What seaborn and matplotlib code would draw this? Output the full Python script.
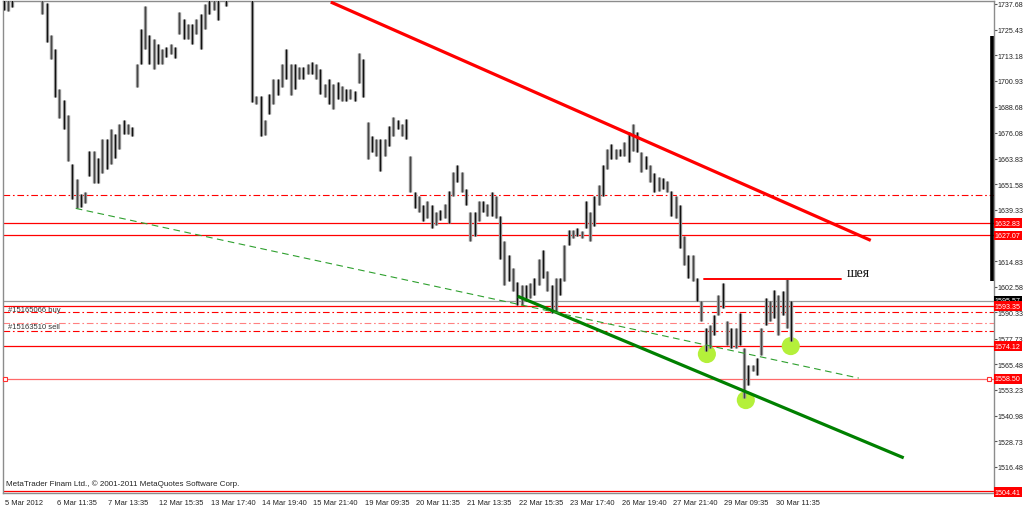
import matplotlib
matplotlib.use("Agg")
import matplotlib.pyplot as plt
import matplotlib.transforms as mtransforms
import seaborn as sns
import numpy as np
import pandas as pd

# ---------------- data ----------------
highs = [1741, 1742, 1745, 1752, 1755, 1758, 1756, 1754, 1750, 1745,
         1738, 1723, 1716, 1697, 1692, 1684.5, 1661, 1654, 1647, 1648,
         1667.5, 1667.5, 1664, 1673, 1673, 1678, 1675.5, 1680.5, 1682, 1680.5,
         1679, 1709, 1725.8, 1736.7, 1723, 1721, 1718.6, 1716, 1717, 1718.6,
         1717, 1734, 1730.5, 1728, 1728, 1730.5, 1733, 1737.7, 1741, 1745,
         1741, 1748, 1744, 1750, 1755, 1760, 1758, 1755, 1745, 1693.8,
         1693.8, 1682, 1694.8, 1701.9, 1702, 1709, 1716, 1709, 1709, 1707.7,
         1707.7, 1709, 1710, 1709, 1706.7, 1699.5, 1701.9, 1699.5, 1700.5, 1698.6,
         1697, 1697, 1696, 1714.3, 1711.5, 1681.4, 1674.7, 1673.3, 1673.3, 1673.3,
         1679.5, 1683.8, 1682, 1680.5, 1682.9, 1665, 1648, 1646, 1641.4, 1643.3,
         1641.4, 1638.5, 1639, 1642.3, 1648.5, 1657.6, 1660.5, 1657.6, 1649.5, 1638.5,
         1638.5, 1643.3, 1643.3, 1642.3, 1648, 1646, 1636.6, 1624.2, 1617.6, 1611.4,
         1605, 1603.3, 1603.3, 1604.2, 1606.6, 1616, 1620, 1610, 1603.3, 1606.6,
         1606.6, 1622.4, 1629.5, 1629.5, 1630.4, 1629, 1643.3, 1638.5, 1646, 1651,
         1660.5, 1668.6, 1671, 1668.6, 1668.6, 1671.9, 1676.6, 1680.5, 1676.6, 1667,
         1665.2, 1660.5, 1656.7, 1655.2, 1654.3, 1653.3, 1648.5, 1646, 1641.4, 1627,
         1617.5, 1617.5, 1606.6, 1595.6, 1582.8, 1584.2, 1589, 1598.5, 1604.2, 1586,
         1582.8, 1582.8, 1590, 1573.2, 1565.2, 1565.2, 1568.5, 1582.8, 1597.1, 1595.6,
         1600.8, 1598.5, 1600.3, 1606.1, 1595.6]
lows = [1735, 1734.5, 1736, 1742, 1745, 1748, 1747, 1744, 1740, 1733,
        1719.5, 1711.5, 1693, 1683, 1678, 1662.5, 1644.7, 1640, 1640.5, 1642.5,
        1655.7, 1652, 1652, 1657, 1659, 1661, 1664, 1668.6, 1675.5, 1675.5,
        1674.7, 1698, 1709, 1716, 1709, 1706.7, 1709, 1709, 1712.4, 1713.8,
        1712, 1723.4, 1721, 1721, 1718.6, 1723.4, 1716, 1725.8, 1733, 1735,
        1730, 1740, 1736.5, 1741, 1745, 1748, 1746, 1744, 1691, 1690,
        1674.7, 1675, 1685, 1690, 1694, 1698, 1702, 1694, 1697, 1702,
        1702, 1704.3, 1704.3, 1701.9, 1694.8, 1693, 1690, 1687.6, 1692.4, 1691.4,
        1691.4, 1692.4, 1691.4, 1700, 1693, 1663.8, 1667, 1665.2, 1658, 1665,
        1670, 1674.7, 1678, 1674.7, 1673.3, 1648, 1640, 1638.5, 1633.8, 1635.2,
        1630.4, 1632, 1634.5, 1635.2, 1633, 1646, 1652.8, 1648, 1641.4, 1624.2,
        1627, 1633.8, 1638.5, 1636.6, 1636.6, 1635.2, 1616, 1603.3, 1605.2, 1600.3,
        1593.7, 1593.7, 1595.6, 1597.1, 1598.5, 1603.3, 1606.6, 1600.3, 1590, 1590.8,
        1598.5, 1605.2, 1622.4, 1625.7, 1626.6, 1625.7, 1630.4, 1624.2, 1631.8, 1641.4,
        1646, 1659, 1663.8, 1663.8, 1664.8, 1665.2, 1662.4, 1667.6, 1667, 1657.6,
        1659, 1652.8, 1648, 1648.5, 1649.5, 1648, 1636.6, 1635.2, 1620.9, 1612.8,
        1606.6, 1605.2, 1595.6, 1586, 1571.8, 1573.2, 1579.5, 1589, 1592.3, 1574.7,
        1573.2, 1573.2, 1574.7, 1549.4, 1555.6, 1562.5, 1560.3, 1570, 1584.2, 1586,
        1587.5, 1579.5, 1589, 1582.8, 1576.5]

date_labels = ["5 Mar 2012", "6 Mar 11:35", "7 Mar 13:35", "12 Mar 15:35", "13 Mar 17:40",
               "14 Mar 19:40", "15 Mar 21:40", "19 Mar 09:35", "20 Mar 11:35", "21 Mar 13:35",
               "22 Mar 15:35", "23 Mar 17:40", "26 Mar 19:40", "27 Mar 21:40", "29 Mar 09:35",
               "30 Mar 11:35"]
bars_per_label = 12

price_ticks = [1737.68, 1725.43, 1713.18, 1700.93, 1688.68, 1676.08, 1663.83, 1651.58,
               1639.33, 1614.83, 1602.58, 1590.33, 1577.73, 1565.48, 1553.23, 1540.98,
               1528.73, 1516.48]

# horizontal levels
solid_levels = [1632.83, 1627.07, 1593.35, 1574.12]
bottom_level = 1504.41
alert_level = 1558.50
grey_level = 1595.57
dashdot_levels = [1646.2, 1590.3, 1581.3]
light_dashdot_levels = [1585.0]
order_labels = ["#15165066 buy", "#15163510 sell"]
order_label_prices = [1591.7, 1583.6]
red_boxes = [1632.83, 1627.07, 1593.35, 1574.12, 1558.50, 1504.41]
range_marker = [1722.4, 1605.2]

# trend lines (bar index, price)
red_trend_x = [76.4, 202.6]
red_trend_y = [1738.6, 1624.7]
green_trend_x = [120.1, 210.3]
green_trend_y = [1598.0, 1520.8]
green_dash_x = [16.8, 199.8]
green_dash_y = [1640.0, 1558.9]
neck_x = [163.6, 195.6]
neck_y = [1606.1, 1606.1]
neck_text = "шея"

circle_x = [164.3, 173.4, 183.9]
circle_y = [1570.4, 1548.4, 1574.2]

# ---------------- drawing ----------------
sns.set_style("white")
plt.rcParams["font.family"] = ["Liberation Sans", "DejaVu Sans"]

fig = plt.figure(figsize=(10.24, 5.10), dpi=100)
ax = fig.add_axes([3 / 1024, 16 / 510, 991 / 1024, 492 / 510])
ax.set_facecolor("white")

n = len(highs)
idx = np.arange(n)
ax.set_xlim(-0.2, 231.4)
ax.set_ylim(1504.0, 1739.1)

# bars: grey body with a dark core
lo = np.array(lows)
hi = np.array(highs)
ax.vlines(idx, lo, hi, colors="#8f8f8f", linewidth=2.4, zorder=3)
core = idx % 2 == 0
ax.vlines(idx[core], lo[core], hi[core], colors="#111111", linewidth=0.8, zorder=3.1)
ax.vlines(idx[~core], lo[~core], hi[~core], colors="#3a3a3a", linewidth=0.6, zorder=3.1)

# horizontal levels
for lv in solid_levels:
    ax.axhline(lv, color="#ff0000", lw=0.9, zorder=2)
ax.axhline(bottom_level + 0.4, color="#ff0000", lw=0.9, zorder=2)
ax.axhline(grey_level, color="#9a9a9a", lw=0.9, zorder=2)
ax.axhline(alert_level, color="#ff6a6a", lw=0.9, zorder=2)
ax.plot([0.3, 230.3], [alert_level, alert_level], ls="none", marker="s", ms=3.5,
        mfc="white", mec="#ff3030", mew=0.8, zorder=4, clip_on=False)
dd = (0, (6, 2.5, 1.5, 2.5))
for lv in dashdot_levels:
    ax.axhline(lv, color="#ff0000", lw=0.8, ls=dd, zorder=2)
for lv in light_dashdot_levels:
    ax.axhline(lv, color="#ff8080", lw=0.8, ls=dd, zorder=2)

for txt, p in zip(order_labels, order_label_prices):
    ax.text(1.0, p, txt, fontsize=5.5, color="#333333", va="center", ha="left", zorder=5)

# trend lines
ax.plot(red_trend_x, red_trend_y, color="#ff0000", lw=2.3, zorder=4, solid_capstyle="butt")
ax.plot(green_trend_x, green_trend_y, color="#008000", lw=2.3, zorder=4, solid_capstyle="butt")
ax.plot(green_dash_x, green_dash_y, color="#2ea02e", lw=0.8, ls=(0, (6, 4)), zorder=4)
ax.plot(neck_x, neck_y, color="#ff0000", lw=1.4, zorder=4)
ax.text(neck_x[1] + 1.4, neck_y[0] + 0.3, neck_text, fontsize=10, family="Liberation Serif",
        color="#111111", va="bottom", ha="left", zorder=5)

# circles
circ = pd.DataFrame({"x": circle_x, "y": circle_y})
sns.scatterplot(data=circ, x="x", y="y", s=170, color="#b4f03a", edgecolor="none",
                ax=ax, zorder=2.5, legend=False)

# copyright text
ax.text(0.003, 0.012, "MetaTrader Finam Ltd., © 2001-2011 MetaQuotes Software Corp.",
        transform=ax.transAxes, fontsize=5.8, color="#222222", ha="left", va="bottom")

# axes cosmetics
for s in ["left", "top", "right", "bottom"]:
    ax.spines[s].set_color("#8c8c8c")
    ax.spines[s].set_linewidth(1.0)

ax.yaxis.tick_right()
ax.set_yticks(price_ticks)
ax.set_yticklabels([f"{v:.2f}" for v in price_ticks])
ax.tick_params(axis="y", direction="out", length=2.0, width=0.8, color="#555555",
               labelsize=5.1, pad=0.8, labelcolor="#222222")

xt = [i * bars_per_label for i in range(len(date_labels))]
ax.set_xticks(xt)
ax.set_xticklabels(date_labels, ha="left")
ax.tick_params(axis="x", direction="out", length=3, width=0.8, color="#555555",
               labelsize=5.4, pad=1.5, labelcolor="#222222")
offset = mtransforms.ScaledTranslation(1.5 / 100, 0, fig.dpi_scale_trans)
for lab in ax.get_xticklabels():
    lab.set_transform(lab.get_transform() + offset)
ax.set_xlabel("")
ax.set_ylabel("")

blend = mtransforms.blended_transform_factory(ax.transAxes, ax.transData)
ax.plot([0.9975, 0.9975], range_marker, color="black", lw=2.6, transform=blend,
        zorder=6, clip_on=False, solid_capstyle="butt")

ax.text(1.001, grey_level + 0.6, f"{grey_level:.2f}", transform=blend, fontsize=5.1,
        color="white", va="center", ha="left", clip_on=False, zorder=7,
        bbox=dict(boxstyle="square,pad=0.15", fc="black", ec="none"))
for p in red_boxes:
    ax.text(1.001, p, f"{p:.2f}", transform=blend, fontsize=5.1, color="white",
            va="center", ha="left", clip_on=False, zorder=8,
            bbox=dict(boxstyle="square,pad=0.2", fc="#ff0000", ec="none"))

fig.savefig("out.png", dpi=100, facecolor="white")
